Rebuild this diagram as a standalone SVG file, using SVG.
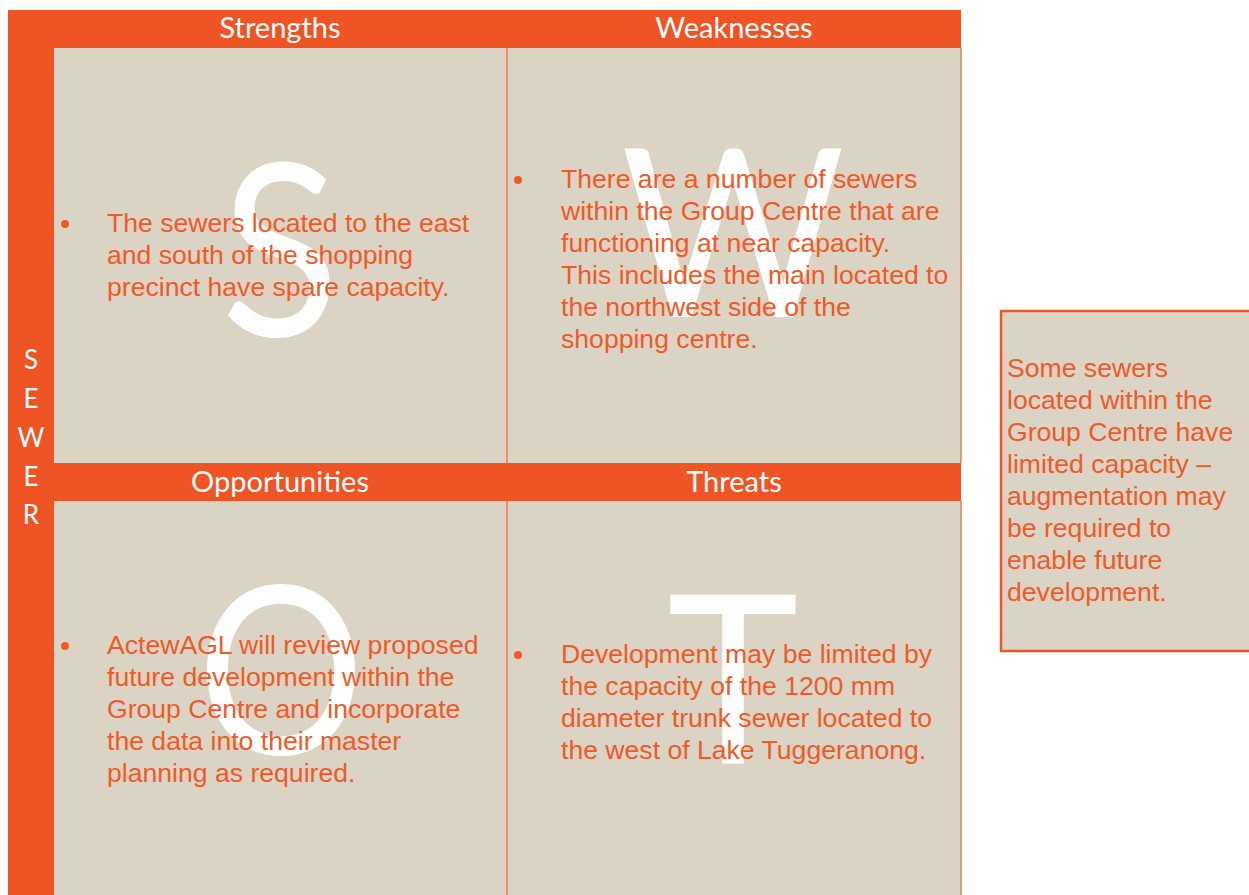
<svg xmlns="http://www.w3.org/2000/svg" width="1249" height="895" viewBox="0 0 1249 895">
<style>
.bar{fill:#EF5424}
.cell{fill:#DBD3C3}
.div{stroke:#F07A50;stroke-width:1.5;fill:none}
.hdr{font-family:Lato,"Open Sans",sans-serif;font-size:29px;fill:#FFFFFF;text-anchor:middle}
.big{font-family:Lato,"Open Sans",sans-serif;font-size:235px;fill:#FFFFFF;text-anchor:middle}
.body{font-family:"Liberation Sans",Arial,sans-serif;font-size:26.6px;fill:#F05A28}
.side{font-family:Lato,"Open Sans",sans-serif;font-size:26px;fill:#FFFFFF;text-anchor:middle}
</style>
<rect width="1249" height="895" fill="#FFFFFF"/>
<g id="frame">
<rect class="bar" x="8" y="10" width="46" height="885"/>
<rect class="bar" x="8" y="10" width="953" height="38"/>
<rect class="cell" x="54" y="48" width="907" height="847"/>
<rect class="bar" x="54" y="463" width="907" height="38"/>
<line class="div" x1="507" y1="48" x2="507" y2="463"/>
<line class="div" x1="507" y1="501" x2="507" y2="895"/>
<line class="div" x1="961" y1="48" x2="961" y2="463"/>
<line class="div" x1="961" y1="501" x2="961" y2="895"/>
<text class="side"><tspan x="31" y="369">S</tspan><tspan x="31" y="408">E</tspan><tspan x="31" y="447">W</tspan><tspan x="31" y="486">E</tspan><tspan x="31" y="524">R</tspan></text>
</g>
<g id="strengths">
<text class="hdr" x="280" y="38">Strengths</text>
<text class="big" transform="translate(280,0) scale(0.91,1)" x="0" y="336" style="font-size:240px">S</text>
<circle cx="65" cy="224" r="4" fill="#F05A28"/>
<text class="body"><tspan x="107" y="232">The sewers located to the east</tspan><tspan x="107" y="264">and south of the shopping</tspan><tspan x="107" y="296">precinct have spare capacity.</tspan></text>
</g>
<g id="weaknesses">
<text class="hdr" x="734" y="38">Weaknesses</text>
<text class="big" transform="translate(733,0) scale(0.92,1)" x="0" y="317">W</text>
<circle cx="518" cy="180" r="4" fill="#F05A28"/>
<text class="body"><tspan x="561" y="188">There are a number of sewers</tspan><tspan x="561" y="220">within the Group Centre that are</tspan><tspan x="561" y="252">functioning at near capacity.</tspan><tspan x="561" y="284">This includes the main located to</tspan><tspan x="561" y="316">the northwest side of the</tspan><tspan x="561" y="348">shopping centre.</tspan></text>
</g>
<g id="opportunities">
<text class="hdr" x="280" y="492">Opportunities</text>
<text class="big" transform="translate(281,0) scale(0.89,1)" x="0" y="754">O</text>
<circle cx="65" cy="646" r="4" fill="#F05A28"/>
<text class="body"><tspan x="107" y="654">ActewAGL will review proposed</tspan><tspan x="107" y="686">future development within the</tspan><tspan x="107" y="718">Group Centre and incorporate</tspan><tspan x="107" y="750">the data into their master</tspan><tspan x="107" y="782">planning as required.</tspan></text>
</g>
<g id="threats">
<text class="hdr" x="734" y="492">Threats</text>
<text class="big" transform="translate(733,0) scale(0.95,1)" x="0" y="763">T</text>
<circle cx="518" cy="655" r="4" fill="#F05A28"/>
<text class="body"><tspan x="561" y="663">Development may be limited by</tspan><tspan x="561" y="695">the capacity of the 1200 mm</tspan><tspan x="561" y="727">diameter trunk sewer located to</tspan><tspan x="561" y="759">the west of Lake Tuggeranong.</tspan></text>
</g>
<g id="summary">
<rect x="1001" y="311" width="250" height="340" fill="#DBD3C3" stroke="#EF5424" stroke-width="2.5"/>
<text class="body"><tspan x="1007" y="377">Some sewers</tspan><tspan x="1007" y="409">located within the</tspan><tspan x="1007" y="441">Group Centre have</tspan><tspan x="1007" y="473">limited capacity –</tspan><tspan x="1007" y="505">augmentation may</tspan><tspan x="1007" y="537">be required to</tspan><tspan x="1007" y="569">enable future</tspan><tspan x="1007" y="601">development.</tspan></text>
</g>
</svg>
